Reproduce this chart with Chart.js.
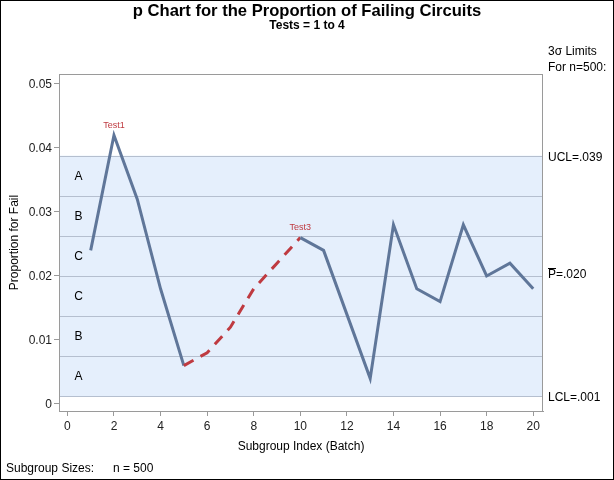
<!DOCTYPE html>
<html><head><meta charset="utf-8">
<script src="https://cdn.jsdelivr.net/npm/chart.js@4.4.1/dist/chart.umd.min.js"></script>
<style>html,body{margin:0;padding:0;background:#fff;}canvas{display:block;}</style>
</head><body>
<canvas id="c" width="614" height="480"></canvas>
<script>
// ---- data ----
const batches = [1,2,3,4,5,6,7,8,9,10,11,12,13,14,15,16,17,18,19,20];
const proportions = [0.024,0.042,0.032,0.018,0.006,0.008,0.012,0.018,0.022,0.026,0.024,0.014,0.004,0.028,0.018,0.016,0.028,0.020,0.022,0.018];
const yTickValues = [0,0.01,0.02,0.03,0.04,0.05];
const yTickLabels = ['0','0.01','0.02','0.03','0.04','0.05'];
const xTickValues = [0,2,4,6,8,10,12,14,16,18,20];
const centerLine = 0.0200;
const sigma = 0.00626;
const ucl = 0.0388;
const lcl = 0.0012;
const zoneLetters = ['A','B','C','C','B','A'];
const limitLabels = ['UCL=.039','=.020','LCL=.001'];
const flaggedRun = [5,10];          // batches in the Test3 run (dashed)
const testLabels = [{batch:2,text:'Test1'},{batch:10,text:'Test3'}];
const sampleSize = 500;

const FONT = '"Liberation Sans", Arial, sans-serif';
const BLUE = '#5f7699';
const RED = '#bf3a40';
const GRAYLINE = '#9a9a9a';

const overlay = {
  id:'overlay',
  beforeDatasetsDraw(chart){
    const {ctx, chartArea:a, scales:{x,y}} = chart;
    ctx.save();
    const yu = y.getPixelForValue(ucl), yl = y.getPixelForValue(lcl);
    ctx.fillStyle = '#e5effc';
    ctx.fillRect(a.left, yu, a.right-a.left, yl-yu);
    ctx.strokeStyle = '#b5bfcf'; ctx.lineWidth = 1;
    const levels = [ucl, centerLine+2*sigma, centerLine+sigma, centerLine, centerLine-sigma, centerLine-2*sigma, lcl];
    levels.forEach(v=>{
      const py = Math.round(y.getPixelForValue(v))+0.5;
      ctx.beginPath(); ctx.moveTo(a.left,py); ctx.lineTo(a.right,py); ctx.stroke();
    });
    ctx.fillStyle = '#000'; ctx.font = '12px '+FONT; ctx.textAlign='center'; ctx.textBaseline='middle';
    for(let i=0;i<6;i++){
      const v = (levels[i]+levels[i+1])/2;
      ctx.fillText(zoneLetters[i], x.getPixelForValue(0.48), y.getPixelForValue(v)+1);
    }
    ctx.restore();
  },
  afterDatasetsDraw(chart){
    const {ctx, chartArea:a, scales:{x,y}} = chart;
    ctx.save();
    ctx.strokeStyle = GRAYLINE; ctx.lineWidth = 1;
    ctx.strokeRect(Math.round(a.left)+0.5, Math.round(a.top)+0.5, Math.round(a.right-a.left)-1, Math.round(a.bottom-a.top));
    ctx.fillStyle = RED; ctx.font = '9px '+FONT; ctx.textAlign='center'; ctx.textBaseline='middle';
    testLabels.forEach(t=>{
      const i = batches.indexOf(t.batch);
      ctx.fillText(t.text, x.getPixelForValue(t.batch), y.getPixelForValue(proportions[i])-10);
    });
    ctx.fillStyle = '#000'; ctx.font = '12px '+FONT; ctx.textAlign='left'; ctx.textBaseline='middle';
    const rx = 548;
    ctx.fillText('3\u03C3 Limits', rx, 52);
    ctx.fillText('For n='+sampleSize+':', rx, 68);
    ctx.fillText(limitLabels[0], rx, y.getPixelForValue(ucl)+2);
    const pcy = y.getPixelForValue(centerLine)-1;
    ctx.fillText('P', rx, pcy);
    const pw = ctx.measureText('P').width;
    ctx.fillText(limitLabels[1], rx+pw, pcy);
    ctx.strokeStyle='#000'; ctx.lineWidth=1;
    ctx.beginPath(); ctx.moveTo(rx, Math.round(pcy-7)+0.5); ctx.lineTo(rx+pw, Math.round(pcy-7)+0.5); ctx.stroke();
    ctx.fillText(limitLabels[2], rx, y.getPixelForValue(lcl)+1);
    ctx.textAlign='center';
    ctx.font = 'bold 16.6px '+FONT;
    ctx.fillText('p Chart for the Proportion of Failing Circuits', 307, 11);
    ctx.font = 'bold 12px '+FONT;
    ctx.fillText('Tests = 1 to 4', 307, 26);
    ctx.font = '12px '+FONT;
    ctx.fillText('Subgroup Index (Batch)', (a.left+a.right)/2, 447);
    ctx.save();
    ctx.translate(15, (a.top+a.bottom)/2);
    ctx.rotate(-Math.PI/2);
    ctx.fillText('Proportion for Fail', 0, 0);
    ctx.restore();
    ctx.textAlign='left';
    ctx.fillText('Subgroup Sizes:', 6, 469);
    ctx.fillText('n = '+sampleSize, 113, 469);
    ctx.strokeStyle='#000';
    ctx.strokeRect(0.5,0.5,chart.width-1,chart.height-1);
    ctx.restore();
  }
};

const inRun = c => batches[c.p0DataIndex] >= flaggedRun[0] && batches[c.p1DataIndex] <= flaggedRun[1];

new Chart(document.getElementById('c'), {
  type:'line',
  data:{datasets:[{
    data: batches.map((b,i)=>({x:b, y:proportions[i]})),
    borderColor: BLUE, borderWidth: 3, pointRadius: 0, tension: 0,
    borderJoinStyle:'miter',
    segment:{
      borderColor: c => inRun(c) ? RED : undefined,
      borderDash: c => inRun(c) ? [11,8] : undefined
    }
  }]},
  options:{
    responsive:false, animation:false, devicePixelRatio:1,
    layout:{padding:{top:74,right:71,left:0,bottom:0}},
    plugins:{legend:{display:false}, tooltip:{enabled:false}},
    scales:{
      x:{type:'linear', min:-0.36, max:20.42,
        afterBuildTicks: s => { s.ticks = xTickValues.map(v=>({value:v})); },
        afterFit: s => { s.height = 69; },
        grid:{drawOnChartArea:false, drawTicks:true, tickLength:5, color:GRAYLINE},
        border:{color:GRAYLINE},
        ticks:{font:{family:FONT,size:12}, color:'#222', padding:3, maxRotation:0}
      },
      y:{type:'linear', min:-0.0011, max:0.05156,
        afterBuildTicks: s => { s.ticks = yTickValues.map(v=>({value:v})); },
        afterFit: s => { s.width = 59; },
        grid:{drawOnChartArea:false, drawTicks:true, tickLength:5, color:GRAYLINE},
        border:{color:GRAYLINE},
        ticks:{font:{family:FONT,size:12}, color:'#222', padding:2, labelOffset:1,
          callback:(v)=>{ const i = yTickValues.indexOf(v); return i>=0 ? yTickLabels[i] : ''; }}
      }
    }
  },
  plugins:[overlay]
});
</script>
</body></html>
